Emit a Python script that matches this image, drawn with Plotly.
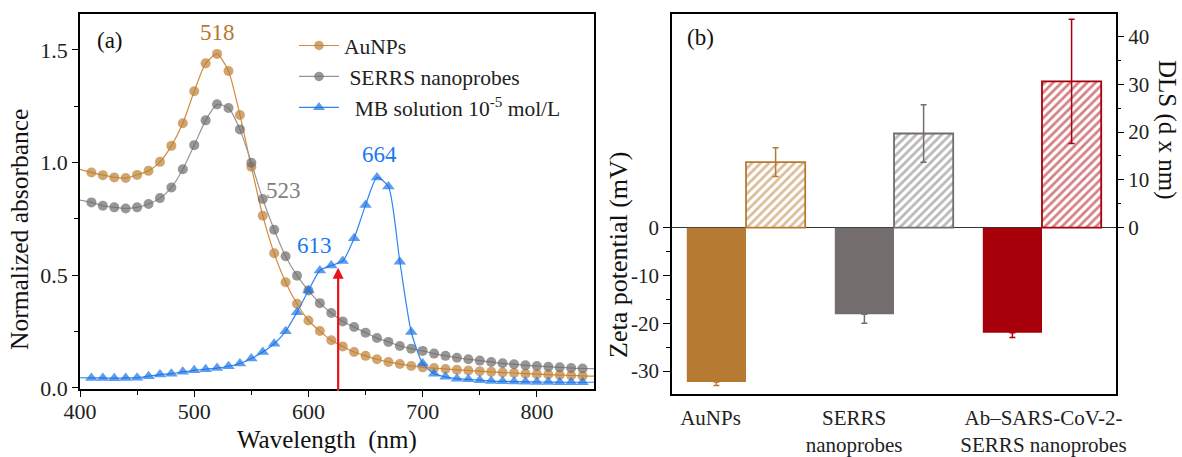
import plotly.graph_objects as go

# ---------------- Panel (a) data ----------------
wavelength = [400, 410, 420, 430, 440, 450, 460, 470, 480, 490, 500, 510, 520, 530, 540, 550,
              560, 570, 580, 590, 600, 610, 620, 630, 640, 650, 660, 670, 680, 690, 700,
              710, 720, 730, 740, 750, 760, 770, 780, 790, 800, 810, 820, 830, 840, 850]

aunps = [0.970, 0.956, 0.944, 0.934, 0.931, 0.945, 0.963, 1.003, 1.074, 1.174, 1.316, 1.440,
         1.482, 1.406, 1.211, 0.981, 0.764, 0.597, 0.469, 0.373, 0.299, 0.252, 0.211, 0.184,
         0.159, 0.142, 0.127, 0.115, 0.106, 0.097, 0.091, 0.088, 0.084, 0.080, 0.077, 0.074,
         0.071, 0.068, 0.066, 0.063, 0.061, 0.059, 0.057, 0.055, 0.053, 0.052]

serrs = [0.833, 0.823, 0.808, 0.801, 0.796, 0.801, 0.816, 0.842, 0.889, 0.970, 1.077, 1.187,
         1.258, 1.242, 1.147, 0.999, 0.838, 0.702, 0.584, 0.498, 0.432, 0.376, 0.332, 0.295,
         0.270, 0.245, 0.221, 0.204, 0.186, 0.174, 0.164, 0.152, 0.142, 0.134, 0.127, 0.121,
         0.115, 0.109, 0.105, 0.100, 0.097, 0.094, 0.091, 0.088, 0.086, 0.085]

mb = [0.045, 0.044, 0.044, 0.043, 0.044, 0.045, 0.052, 0.059, 0.063, 0.071, 0.078, 0.083,
      0.088, 0.096, 0.108, 0.130, 0.159, 0.196, 0.251, 0.336, 0.432, 0.521, 0.543, 0.563,
      0.664, 0.811, 0.934, 0.894, 0.560, 0.248, 0.108, 0.063, 0.049, 0.041, 0.038, 0.034,
      0.030, 0.029, 0.028, 0.027, 0.026, 0.026, 0.025, 0.025, 0.025, 0.025]

series_names = ["AuNPs", "&nbsp;SERRS nanoprobes", "&nbsp;&nbsp;MB solution 10<sup>-5</sup> mol/L"]

peak_labels = ["518", "523", "613", "664"]
peak_label_x = [520, 578, 605, 662]
peak_label_y = [1.575, 0.875, 0.631, 1.037]
arrow_x = 626
arrow_top = 0.533

# ---------------- Panel (b) data ----------------
categories = ["AuNPs", "SERRS<br>nanoprobes", "Ab–SARS-CoV-2-<br>SERRS nanoprobes"]
group_pos = [0, 1, 2]
label_pos = [-0.24, 0.73, 2.01]
zeta_values = [-32.3, -18.1, -22.0]
zeta_err = [0.7, 1.9, 1.0]
dls_values = [13.7, 19.7, 30.6]
dls_err = [3.0, 6.0, 13.0]
bar_colors = ["#B77A33", "#736D6D", "#A8000A"]
zeta_ticks = [-30, -20, -10, 0]
zeta_ticktext = ["-30", "-20", "-10", "0"]
dls_ticks = [0, 10, 20, 30, 40]

FONT = "Liberation Serif"
W, H = 1182, 457

fig = go.Figure()

# panel (a) traces
line_cols = ["#D38B3E", "#9A9696", "#2F86F2"]
mark_cols = ["#BE7F33", "#6E6A6A", "#1A72E6"]
symbols = ["circle", "circle", "triangle-up"]
msizes = [10, 10, 11]
for name, vals, lc, mc, sym, ms in zip(series_names, [aunps, serrs, mb], line_cols, mark_cols, symbols, msizes):
    sizes = [0] + [ms] * (len(wavelength) - 2) + [0]
    fig.add_trace(go.Scatter(
        x=wavelength, y=vals, name=name, mode="lines+markers",
        line=dict(color=lc, width=1.2, shape="spline", smoothing=0.6),
        marker=dict(color=mc, size=sizes, symbol=sym, line=dict(width=0)),
        xaxis="x", yaxis="y", cliponaxis=True,
    ))

# panel (b) traces
for i in range(3):
    fig.add_trace(go.Bar(
        x=[group_pos[i] - 0.2], y=[zeta_values[i]], width=0.4,
        marker=dict(color=bar_colors[i], line=dict(width=0)),
        error_y=dict(type="data", symmetric=False, array=[0], arrayminus=[zeta_err[i]],
                     color=bar_colors[i], thickness=1.5, width=3),
        xaxis="x2", yaxis="y2", showlegend=False,
    ))
    fig.add_trace(go.Bar(
        x=[group_pos[i] + 0.2], y=[dls_values[i]], width=0.4,
        marker=dict(color="white", line=dict(width=1.8, color=bar_colors[i]),
                    pattern=dict(shape="/", fgcolor=bar_colors[i], bgcolor="white",
                                 size=6, solidity=0.45)),
        error_y=dict(type="data", array=[dls_err[i]], color=bar_colors[i], thickness=1.5, width=3),
        xaxis="x2", yaxis="y3", showlegend=False,
    ))

def px_x(p):
    return p / W

def px_y(p):
    return 1 - p / H

axis_common = dict(showline=True, linecolor="black", linewidth=1.5, mirror=True,
                   ticks="outside", tickcolor="black", ticklen=6, tickwidth=1.3,
                   showgrid=False, zeroline=False, automargin=False,
                   tickfont=dict(family=FONT, size=22, color="#222"))

yr_b = [-34.8, 44.7]

fig.update_layout(
    width=W, height=H,
    margin=dict(l=0, r=0, t=0, b=0, autoexpand=False),
    paper_bgcolor="white", plot_bgcolor="white",
    font=dict(family=FONT, color="#222"),
    barmode="overlay",
    xaxis=dict(domain=[px_x(80), px_x(594)], range=[400, 850], anchor="y",
               tickvals=[400, 500, 600, 700, 800], ticklabelstandoff=-4,
               minor=dict(tickvals=[450, 550, 650, 750], ticklen=4, tickcolor="black", ticks="outside"),
               **axis_common),
    yaxis=dict(domain=[px_y(389), px_y(14)], range=[-0.005, 1.659], anchor="x",
               tickvals=[0, 0.5, 1.0, 1.5], ticktext=["0.0", "0.5", "1.0", "1.5"],
               minor=dict(tickvals=[0.25, 0.75, 1.25], ticklen=4, tickcolor="black", ticks="outside"),
               **axis_common),
    xaxis2=dict(domain=[px_x(672), px_x(1116)], range=[-0.5, 2.5], anchor="y2", automargin=False,
                showline=True, linecolor="black", linewidth=1.5, mirror=True,
                tickvals=label_pos, ticktext=categories, ticks="", showgrid=False, zeroline=False,
                ticklabelstandoff=4,
                tickfont=dict(family=FONT, size=21, color="#222")),
    yaxis2=dict(domain=[px_y(394), px_y(14)], range=yr_b, anchor="x2", automargin=False,
                tickvals=zeta_ticks, ticktext=zeta_ticktext,
                minor=dict(tickvals=[-25, -15, -5], ticklen=4, tickcolor="black", ticks="outside"),
                showline=True, linecolor="black", linewidth=1.5, mirror=True,
                ticks="outside", tickcolor="black", ticklen=7, tickwidth=1.3, showgrid=False,
                zeroline=True, zerolinecolor="#333", zerolinewidth=1.2,
                tickfont=dict(family=FONT, size=21, color="#222")),
    yaxis3=dict(domain=[px_y(394), px_y(14)], range=yr_b, anchor="x2", overlaying="y2", side="right",
                automargin=False,
                tickvals=dls_ticks,
                minor=dict(tickvals=[5, 15, 25, 35], ticklen=4, tickcolor="black", ticks="outside"),
                showline=False, ticks="outside", tickcolor="black", ticklen=7, tickwidth=1.3,
                showgrid=False, zeroline=False,
                tickfont=dict(family=FONT, size=21, color="#222")),
    legend=dict(x=px_x(294), y=px_y(25), xanchor="left", yanchor="top",
                bgcolor="rgba(0,0,0,0)", font=dict(family=FONT, size=21.5, color="#222"),
                itemwidth=40, tracegroupgap=0),
    showlegend=True,
)

def ann(x, y, text, size, color="#111", xref="paper", yref="paper", angle=0):
    return dict(x=x, y=y, xref=xref, yref=yref, text=text, showarrow=False, textangle=angle,
                xanchor="center", yanchor="middle", font=dict(family=FONT, size=size, color=color))

annotations = []
peak_colors = ["#B8762F", "#7F7F7F", "#1A78F0", "#1A78F0"]
for t, xv, yv, c in zip(peak_labels, peak_label_x, peak_label_y, peak_colors):
    annotations.append(ann(xv, yv, t, 23, c, "x", "y"))
annotations.append(dict(x=arrow_x, y=arrow_top, xref="x", yref="y", ax=arrow_x, ay=-0.02,
                        axref="x", ayref="y", text="", showarrow=True, arrowhead=2, arrowsize=1,
                        arrowwidth=2.2, arrowcolor="#E8141B"))
annotations.append(ann(426.5, 1.54, "(a)", 23, "#111", "x", "y"))
annotations.append(ann(px_x(327), px_y(440), "Wavelength&nbsp;&nbsp;(nm)", 25))
annotations.append(ann(px_x(20), px_y(230), "Normalized absorbance", 25.5, angle=-90))
annotations.append(ann(px_x(700), px_y(37), "(b)", 23))
annotations.append(ann(px_x(618), px_y(255), "Zeta potential (mV)", 26, angle=-90))
annotations.append(ann(px_x(1167), px_y(130), "DLS (d x nm)", 25, angle=90))
fig.update_layout(annotations=annotations)

fig.write_html("out.html", config={"displayModeBar": False},
               post_script="document.body.style.margin='0';document.body.style.overflow='hidden';")
